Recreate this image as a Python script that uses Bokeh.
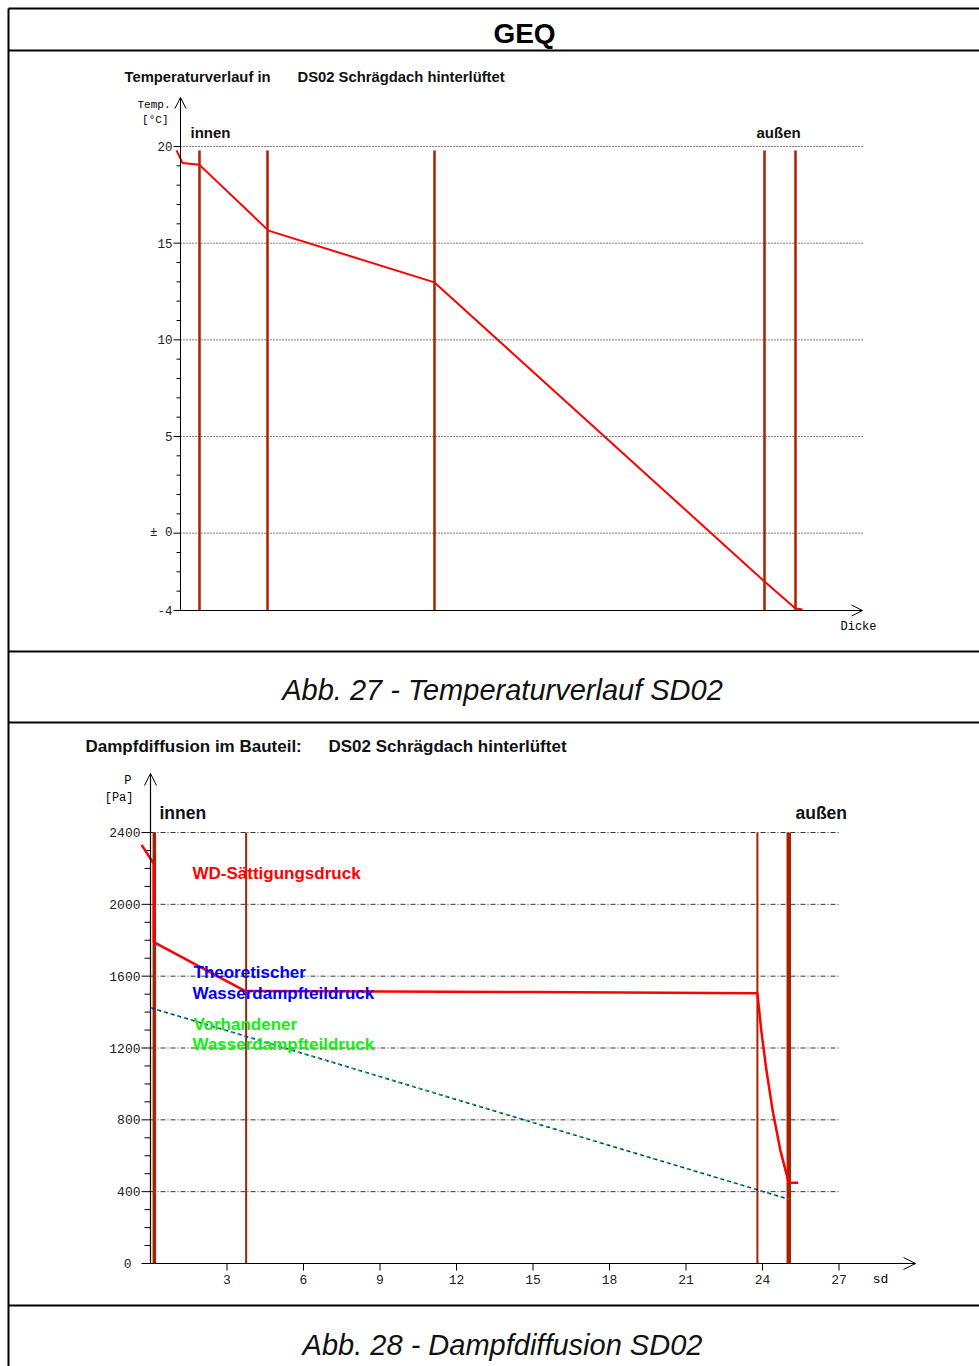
from bokeh.plotting import figure
from bokeh.models import Range1d, Arrow, OpenHead
from bokeh.core.properties import value
from bokeh.embed import file_html
from bokeh.resources import INLINE

# ---------------- data ----------------
# Temperature profile (Dicke in cm, temperature in degC)
temp_layer_x = [0.95, 4.35, 12.7, 29.2, 30.75]
temp_x = [-0.2, 0.1, 0.95, 4.4, 12.7, 29.2, 30.75, 31.1]
temp_T = [19.8, 19.15, 19.05, 15.65, 12.97, -2.5, -3.9, -3.95]
temp_grid = [20, 15, 10, 5, 0]
temp_ticks = [20, 15, 10, 5, 0, -4]
temp_tick_labels = ["20", "15", "10", "5", "\u00b1 0", "-4"]
temp_minor = [19, 18, 17, 16, 14, 13, 12, 11, 9, 8, 7, 6, 4, 3, 2, 1, -1, -2, -3]

# Vapour diffusion (sd in m, pressure in Pa)
sd_layers = [0.15, 3.75, 23.8, 25.03]
sd_layer_widths = [3.5, 2, 2, 4.5]
psat_sd = [-0.35, 0.13, 0.13, 3.7, 15.0, 23.8, 23.95, 24.15, 24.4, 24.7, 25.03, 25.4]
psat_P = [2331, 2226, 1789, 1518, 1512, 1505, 1300, 1080, 850, 630, 450, 450]
pv_sd = [0.0, 25.03]
pv_theo = [1424, 358]
pv_avail = [1424, 358]
p_grid = [2400, 2000, 1600, 1200, 800, 400]
p_ticks = [2400, 2000, 1600, 1200, 800, 400, 0]
p_tick_labels = ["2400", "2000", "1600", "1200", "800", "400", "0"]
p_minor = [v for v in range(100, 2400, 100) if v % 400 != 0]
sd_ticks = [3, 6, 9, 12, 15, 18, 21, 24, 27]
sd_tick_labels = ["3", "6", "9", "12", "15", "18", "21", "24", "27"]

W, H = 979, 1366
SANS = value("Liberation Sans")
MONO = value("Liberation Mono")
WALL = "#a82200"


def lin_range(v_a, px_a, v_b, px_b, px_lo, px_hi):
    k = (v_b - v_a) / (px_b - px_a)
    return Range1d(start=v_a + (px_lo - px_a) * k, end=v_a + (px_hi - px_a) * k)


p = figure(width=W, height=H, x_range=Range1d(0, W), y_range=Range1d(H, 0),
           x_axis_type=None, y_axis_type=None, output_backend="svg",
           toolbar_location=None, min_border=0)
p.outline_line_color = None
p.background_fill_color = "white"

# chart coordinate systems placed inside the page
TX_PX = 20.0            # px per cm
TY_PX = (610 - 146) / 24.0
SX_PX = (762 - 150) / 24.0
SY_PX = (1263 - 832) / 2400.0
p.extra_x_ranges = {
    "tx": lin_range(0, 180, 1, 180 + TX_PX, 0, W),
    "sx": lin_range(0, 150, 24, 762, 0, W),
}
p.extra_y_ranges = {
    "ty": lin_range(20, 146, -4, 610, H, 0),
    "sy": lin_range(0, 1263, 2400, 832, H, 0),
}

# ---------------- page frame ----------------
for yy in [8, 50, 651, 722, 1305]:
    p.segment(x0=[8], y0=[yy], x1=[W], y1=[yy], line_color="black", line_width=2)
p.segment(x0=[8], y0=[8], x1=[8], y1=[H], line_color="black", line_width=2)

p.text(x=[524], y=[33], text=["GEQ"], text_font=SANS, text_font_size="28px",
       text_font_style="bold", text_align="center", text_baseline="middle")
p.text(x=[502, 502], y=[689, 1344],
       text=["Abb. 27 - Temperaturverlauf SD02", "Abb. 28 - Dampfdiffusion SD02"],
       text_font=SANS, text_font_size="29px", text_font_style="italic",
       text_align="center", text_baseline="middle", text_color="#111111")

# ---------------- temperature chart ----------------
T_TOP = 20 + (146 - 150) / TY_PX
T_ARROW = 20 + (146 - 97) / TY_PX
X_END = (862 - 180) / TX_PX

p.segment(x0=[0] * len(temp_grid), y0=temp_grid, x1=[X_END] * len(temp_grid), y1=temp_grid,
          x_range_name="tx", y_range_name="ty", line_color="#000000", line_width=1,
          line_dash="1 2")
p.segment(x0=temp_layer_x, y0=[-4] * 5, x1=temp_layer_x, y1=[T_TOP] * 5,
          x_range_name="tx", y_range_name="ty", line_color=WALL, line_width=2.5)

# axes
p.add_layout(Arrow(end=OpenHead(size=11, line_width=1), x_start=0, y_start=-4, x_end=0,
                   y_end=T_ARROW, x_range_name="tx", y_range_name="ty", line_width=1))
p.add_layout(Arrow(end=OpenHead(size=11, line_width=1), x_start=0, y_start=-4, x_end=X_END,
                   y_end=-4, x_range_name="tx", y_range_name="ty", line_width=1))
p.segment(x0=[-7 / TX_PX] * len(temp_ticks), y0=temp_ticks, x1=[0] * len(temp_ticks),
          y1=temp_ticks, x_range_name="tx", y_range_name="ty", line_color="black")
p.segment(x0=[-4 / TX_PX] * len(temp_minor), y0=temp_minor, x1=[0] * len(temp_minor),
          y1=temp_minor, x_range_name="tx", y_range_name="ty", line_color="black")
p.text(x=[0] * len(temp_ticks), y=temp_ticks, text=temp_tick_labels, x_offset=-8,
       x_range_name="tx", y_range_name="ty", text_font=MONO, text_font_size="12.5px",
       text_align="right", text_baseline="middle", text_color="#222222")

p.line(temp_x, temp_T, x_range_name="tx", y_range_name="ty", line_color="#ff0000",
       line_width=2)

p.text(x=[124, 297], y=[76, 76],
       text=["Temperaturverlauf in", "DS02 Schr\u00e4gdach hinterl\u00fcftet"],
       text_font=SANS, text_font_size="14.8px", text_font_style="bold",
       text_align="left", text_baseline="middle", text_color="#111111")
p.text(x=[170, 168], y=[104, 119], text=["Temp.", "[\u00b0C]"], text_font=MONO,
       text_font_size="11px", text_align="right", text_baseline="middle")
p.text(x=[190, 756], y=[132, 132], text=["innen", "au\u00dfen"], text_font=SANS,
       text_font_size="15px", text_font_style="bold", text_align="left",
       text_baseline="middle", text_color="#111111")
p.text(x=[840], y=[626], text=["Dicke"], text_font=MONO, text_font_size="12px",
       text_align="left", text_baseline="middle")

# ---------------- vapour diffusion chart ----------------
P_ARROW = (1263 - 773) / SY_PX
SD_ARROW = (915 - 150) / SX_PX
SD_GRID_END = 27.0

p.segment(x0=[0] * len(p_grid), y0=p_grid, x1=[SD_GRID_END] * len(p_grid), y1=p_grid,
          x_range_name="sx", y_range_name="sy", line_color="#333333", line_width=1,
          line_dash="5 2 1 2")
for xs, lw in zip(sd_layers, sd_layer_widths):
    p.segment(x0=[xs], y0=[0], x1=[xs], y1=[2400], x_range_name="sx", y_range_name="sy",
              line_color=WALL, line_width=lw)

p.add_layout(Arrow(end=OpenHead(size=12, line_width=1), x_start=0, y_start=0, x_end=0,
                   y_end=P_ARROW, x_range_name="sx", y_range_name="sy", line_width=1.2))
p.add_layout(Arrow(end=OpenHead(size=12, line_width=1), x_start=0, y_start=0,
                   x_end=SD_ARROW, y_end=0, x_range_name="sx", y_range_name="sy",
                   line_width=1.2))
p.segment(x0=[-9 / SX_PX] * len(p_ticks), y0=p_ticks, x1=[0] * len(p_ticks), y1=p_ticks,
          x_range_name="sx", y_range_name="sy", line_color="black")
p.segment(x0=[-6 / SX_PX] * len(p_minor), y0=p_minor, x1=[0] * len(p_minor), y1=p_minor,
          x_range_name="sx", y_range_name="sy", line_color="black")
p.segment(x0=sd_ticks, y0=[0] * len(sd_ticks), x1=sd_ticks,
          y1=[-7 / SY_PX] * len(sd_ticks), x_range_name="sx", y_range_name="sy",
          line_color="black")
# the origin label sits a little further left than the others
p_label_shift = [-10, -10, -10, -10, -10, -10, -19]
p.text(x=[0] * len(p_ticks), y=p_ticks, text=p_tick_labels, x_offset=p_label_shift,
       x_range_name="sx", y_range_name="sy", text_font=MONO, text_font_size="13px",
       text_align="right", text_baseline="middle", text_color="#222222")
p.text(x=sd_ticks, y=[0] * len(sd_ticks), text=sd_tick_labels, y_offset=16,
       x_range_name="sx", y_range_name="sy", text_font=MONO, text_font_size="13px",
       text_align="center", text_baseline="middle", text_color="#222222")

p.line(psat_sd, psat_P, x_range_name="sx", y_range_name="sy", line_color="#ff0000",
       line_width=2.5)
p.line(pv_sd, pv_theo, x_range_name="sx", y_range_name="sy", line_color="#0000ff",
       line_width=1.5, line_dash="4 3")
p.line(pv_sd, pv_avail, x_range_name="sx", y_range_name="sy", line_color="#00dd00",
       line_width=1.5, line_dash="2 5")

p.text(x=[85, 328], y=[746, 746],
       text=["Dampfdiffusion im Bauteil:", "DS02 Schr\u00e4gdach hinterl\u00fcftet"],
       text_font=SANS, text_font_size="17px", text_font_style="bold",
       text_align="left", text_baseline="middle", text_color="#111111")
p.text(x=[131, 133], y=[780, 797], text=["P", "[Pa]"], text_font=MONO,
       text_font_size="12px", text_align="right", text_baseline="middle")
p.text(x=[159, 795], y=[812, 812], text=["innen", "au\u00dfen"], text_font=SANS,
       text_font_size="17.5px", text_font_style="bold", text_align="left",
       text_baseline="middle", text_color="#111111")
p.text(x=[880], y=[1279], text=["sd"], text_font=MONO, text_font_size="13px",
       text_align="center", text_baseline="middle")

p.text(x=[192], y=[873], text=["WD-S\u00e4ttigungsdruck"], text_font=SANS,
       text_font_size="17px", text_font_style="bold", text_align="left",
       text_baseline="middle", text_color="#ff0000")
p.text(x=[193, 192], y=[972, 993], text=["Theoretischer", "Wasserdampfteildruck"],
       text_font=SANS, text_font_size="17px", text_font_style="bold",
       text_align="left", text_baseline="middle", text_color="#0000ff")
p.text(x=[193, 192], y=[1024, 1044], text=["Vorhandener", "Wasserdampfteildruck"],
       text_font=SANS, text_font_size="17px", text_font_style="bold",
       text_align="left", text_baseline="middle", text_color="#11ee11")

open("out.html", "w").write(file_html(p, INLINE))
